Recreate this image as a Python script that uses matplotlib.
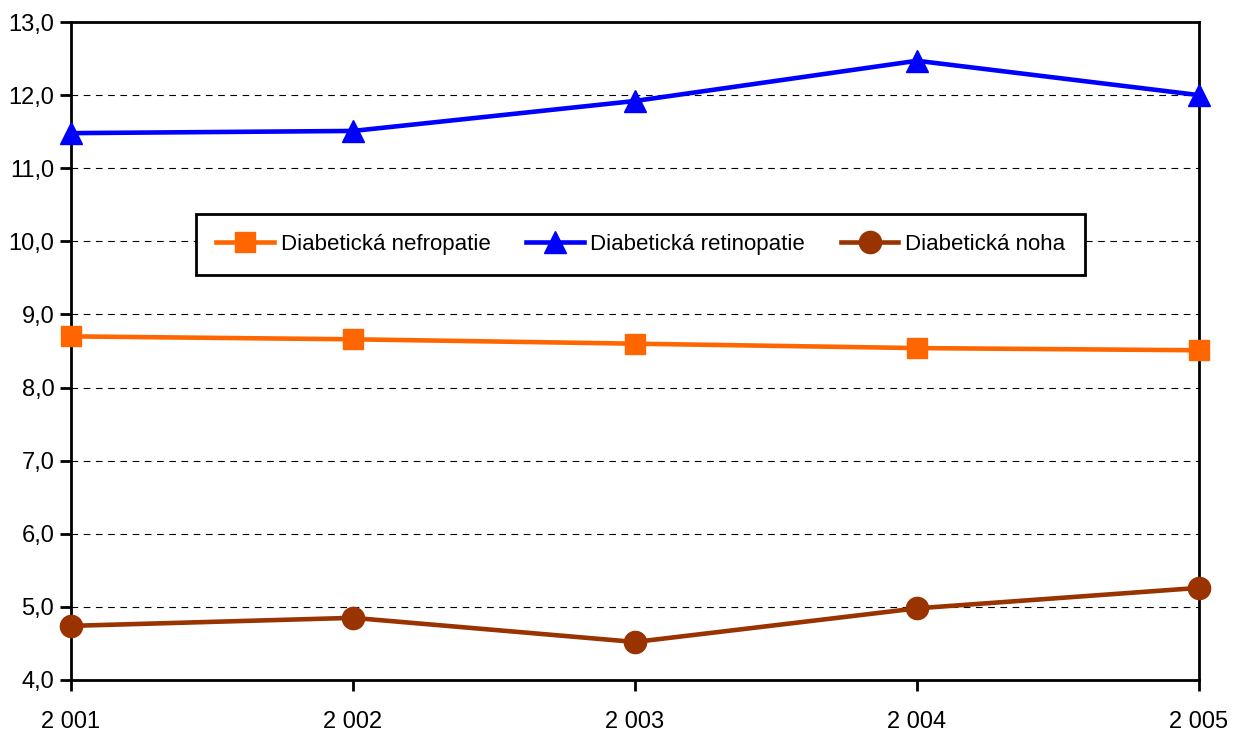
import matplotlib
matplotlib.use("Agg")
import matplotlib.pyplot as plt
from matplotlib.ticker import FuncFormatter

plt.rcParams['font.family'] = ['Liberation Sans', 'DejaVu Sans']

years = [2001, 2002, 2003, 2004, 2005]
year_labels = ["2 001", "2 002", "2 003", "2 004", "2 005"]
nefropatie = [8.70, 8.66, 8.60, 8.54, 8.51]
retinopatie = [11.48, 11.51, 11.92, 12.47, 12.00]
noha = [4.74, 4.85, 4.52, 4.98, 5.26]

fig = plt.figure(figsize=(12.37, 7.34), dpi=100)
ax = fig.add_axes([0.0574, 0.0736, 0.9693 - 0.0574, 0.97 - 0.0736])

ax.plot(years, nefropatie, color='#FF6600', lw=3.3, marker='s', ms=14,
        label='Diabetická nefropatie', clip_on=False, zorder=3)
ax.plot(years, retinopatie, color='#0000FF', lw=3.3, marker='^', ms=16,
        label='Diabetická retinopatie', clip_on=False, zorder=3)
ax.plot(years, noha, color='#993300', lw=3.3, marker='o', ms=16,
        label='Diabetická noha', clip_on=False, zorder=3)

ax.set_xlim(2001, 2005)
ax.set_ylim(4, 13)
ax.set_yticks(range(4, 14))
ax.yaxis.set_major_formatter(FuncFormatter(lambda v, p: f"{v:.1f}".replace('.', ',')))
ax.set_xticks(years)
ax.set_xticklabels(year_labels)
ax.grid(axis='y', color='black', linestyle=(0, (6, 5)), lw=0.8)
ax.set_axisbelow(True)
for s in ax.spines.values():
    s.set_linewidth(2)
ax.tick_params(axis='both', labelsize=17, width=2, length=8, direction='out')
ax.tick_params(axis='x', pad=14)
ax.tick_params(axis='y', pad=4)

leg = ax.legend(loc='center', bbox_to_anchor=(0.505, 0.662), ncol=3, fontsize=16,
                frameon=True, fancybox=False, edgecolor='black', framealpha=1,
                handlelength=2.6, columnspacing=1.6, borderpad=0.9, handletextpad=0.3)
leg.get_frame().set_linewidth(2)

fig.savefig('out.png', dpi=100)
